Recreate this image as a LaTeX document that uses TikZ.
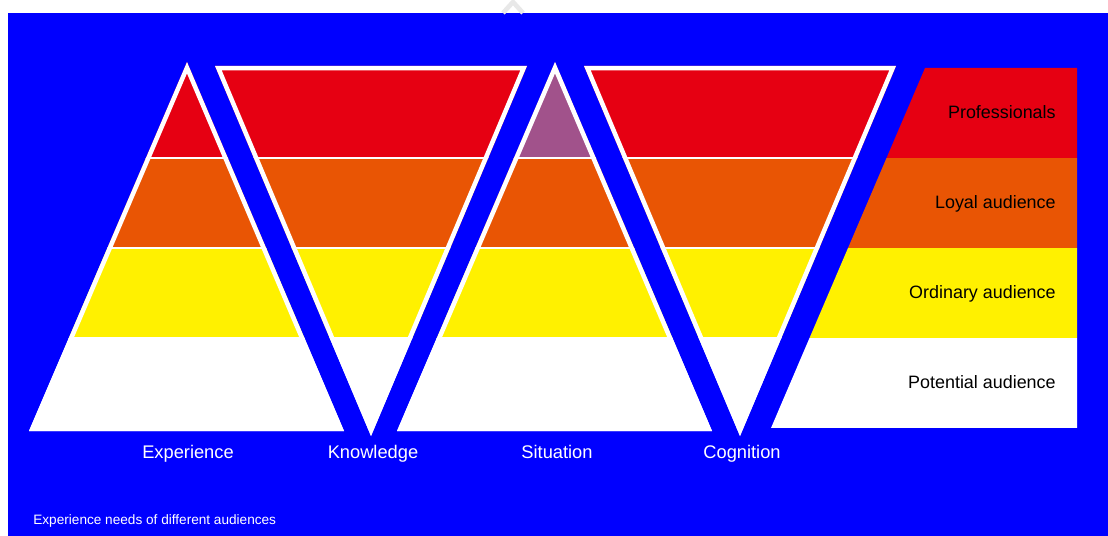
\documentclass[tikz,border=0pt]{standalone}
\usepackage{fontspec}
\setmainfont{Liberation Sans}
\definecolor{bgblue}{RGB}{0,0,255}
\definecolor{lred}{RGB}{230,0,18}
\definecolor{lorange}{RGB}{233,85,4}
\definecolor{lyellow}{RGB}{255,241,0}
\definecolor{lpurple}{RGB}{161,82,139}
\newcommand\drawlayers[2]{%
  \begin{scope}
    \clip #1;
    \fill[#2] (0,0) rectangle (1108,158);
    \fill[lorange] (0,158) rectangle (1108,248);
    \fill[lyellow] (0,248) rectangle (1108,338);
    \fill[white] (0,338) rectangle (1108,536);
    \draw[sep] (0,158) -- (1108,158) (0,248) -- (1108,248) (0,338) -- (1108,338);
    \draw[rim] #1;
  \end{scope}}
\begin{document}
\begin{tikzpicture}[x=0.02cm,y=-0.02cm,
  sep/.style={white, line width=1.45pt},
  rim/.style={white, line width=5.1pt, line join=miter},
  lbl/.style={text=white, inner sep=0pt, anchor=base, font=\fontsize{10.4}{12}\selectfont},
  leg/.style={text=black, inner sep=0pt, anchor=base east, font=\fontsize{10.2}{12}\selectfont}]
\useasboundingbox (0,0) rectangle (1108,536);
\fill[white] (0,0) rectangle (1108,536);
\fill[bgblue] (8,13) rectangle (1108,536);
\draw[gray!18, line width=2.6pt] (503,13) -- (513,2) -- (523,13);
% pyramids
\drawlayers{(187,62) -- (344,431) -- (29,431) -- cycle}{lred}
\drawlayers{(215,66) -- (527,66) -- (371,436) -- cycle}{lred}
\drawlayers{(555,62) -- (712,431) -- (397,431) -- cycle}{lpurple}
\drawlayers{(584,66) -- (896,66) -- (740,436) -- cycle}{lred}
% legend
\begin{scope}
  \clip (925,68) -- (1077,68) -- (1077,428) -- (771,428) -- cycle;
  \fill[lred] (700,60) rectangle (1108,158);
  \fill[lorange] (700,158) rectangle (1108,248);
  \fill[lyellow] (700,248) rectangle (1108,338);
  \fill[white] (700,338) rectangle (1108,440);
\end{scope}
\node[leg] (pro) at (1056,119) {Professionals};
\node[leg] (loy) at (1056,209) {Loyal audience};
\node[leg] (ord) at (1056,299) {Ordinary audience};
\node[leg] (pot) at (1056,389) {Potential audience};
% labels
\node[lbl] (exp) at (188,458.5) {Experience};
\node[lbl] (kno) at (373,458.5) {Knowledge};
\node[lbl] (sit) at (557,458.5) {Situation};
\node[lbl] (cog) at (742,458.5) {Cognition};
\node[text=white, inner sep=0pt, anchor=base west, font=\fontsize{7.75}{9}\selectfont] (note) at (33,524) {Experience needs of different audiences};
\end{tikzpicture}
\end{document}
